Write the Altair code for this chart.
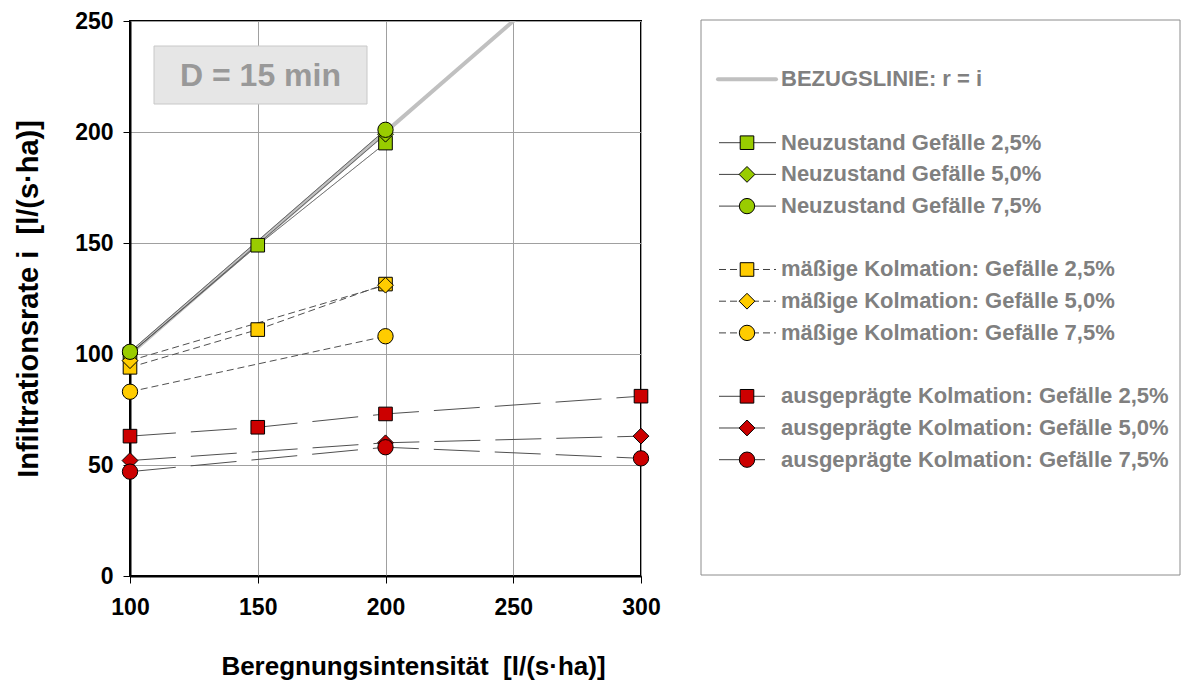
import altair as alt
import pandas as pd

# ---------------- data ----------------
states = ["Neuzustand", "mäßige Kolmation", "ausgeprägte Kolmation"]
slopes = ["2,5%", "5,0%", "7,5%"]
state_colors = ["#99CC00", "#FFCC00", "#CC0000"]
slope_shapes = ["square", "diamond", "circle"]
slope_sizes = [185, 250, 235]

neu_25_x = [100, 150, 200]
neu_25_y = [100, 149, 195]
neu_50_x = [100, 200]
neu_50_y = [100, 199]
neu_75_x = [100, 200]
neu_75_y = [101, 201]

mk_25_x = [100, 150, 200]
mk_25_y = [94, 111, 131.5]
mk_50_x = [100, 200]
mk_50_y = [97, 131]
mk_75_x = [100, 200]
mk_75_y = [83, 108]

ak_25_x = [100, 150, 200, 300]
ak_25_y = [63, 67, 73, 81]
ak_50_x = [100, 200, 300]
ak_50_y = [52, 60, 63]
ak_75_x = [100, 200, 300]
ak_75_y = [47, 58, 53]

ref_x = [100, 300]
ref_y = [100, 300]
ref_label = "BEZUGSLINIE: r = i"

x_ticks = [100, 150, 200, 250, 300]
y_ticks = [0, 50, 100, 150, 200, 250]
x_title = "Beregnungsintensität\u00a0 [l/(s·ha)]"
y_title = "Infiltrationsrate i\u00a0 [l/(s·ha)]"
box_label = "D = 15 min"

series_def = [
    (0, 0, neu_25_x, neu_25_y), (0, 1, neu_50_x, neu_50_y), (0, 2, neu_75_x, neu_75_y),
    (1, 0, mk_25_x, mk_25_y), (1, 1, mk_50_x, mk_50_y), (1, 2, mk_75_x, mk_75_y),
    (2, 0, ak_25_x, ak_25_y), (2, 1, ak_50_x, ak_50_y), (2, 2, ak_75_x, ak_75_y),
]


def label_for(si, pi):
    if si == 0:
        return f"Neuzustand Gefälle {slopes[pi]}"
    return f"{states[si]}: Gefälle {slopes[pi]}"


rows = []
legend_rows = [{"label": ref_label, "row": 0, "state": "ref", "slope": ""}]
for si, pi, xs, ys in series_def:
    lab = label_for(si, pi)
    for xv, yv in zip(xs, ys):
        rows.append({"x": xv, "y": yv, "series": lab, "state": states[si], "slope": slopes[pi]})
    legend_rows.append({"label": lab, "row": 2 + si * 4 + pi, "state": states[si], "slope": slopes[pi]})

df = pd.DataFrame(rows)
ref_df = pd.DataFrame({"x": ref_x, "y": ref_y})
leg_df = pd.DataFrame(legend_rows)
box_df = pd.DataFrame({"label": [box_label]})

FONT = "Liberation Sans"

# ---------------- scales ----------------
fill_scale = alt.Scale(domain=states, range=state_colors)
dash_scale = alt.Scale(domain=states, range=[[1, 0], [7, 4], [46, 15]])

x_enc = alt.X(
    "x:Q",
    scale=alt.Scale(domain=[100, 300], nice=False, zero=False),
    axis=alt.Axis(
        values=x_ticks, title=x_title, grid=True, gridColor="#a0a0a0", gridWidth=1,
        labelFont=FONT, labelFontSize=23, labelFontWeight="bold", labelColor="black",
        labelPadding=13, tickSize=7, tickColor="black", domainColor="black", domainWidth=2,
        titleFont=FONT, titleFontSize=26, titleFontWeight="bold", titleColor="black",
        titlePadding=34, titleX=283, labelFlush=False,
    ),
)
y_enc = alt.Y(
    "y:Q",
    scale=alt.Scale(domain=[0, 250], nice=False),
    axis=alt.Axis(
        values=y_ticks, title=y_title, grid=True, gridColor="#a0a0a0", gridWidth=1,
        labelFont=FONT, labelFontSize=23, labelFontWeight="bold", labelColor="black",
        labelPadding=10, tickSize=7, tickColor="black", domainColor="black", domainWidth=2,
        titleFont=FONT, titleFontSize=29, titleFontWeight="bold", titleColor="black",
        titlePadding=31, labelFlush=False,
    ),
)

# ---------------- plot ----------------
box = alt.Chart(box_df).mark_rect(fill="#e6e6e6", stroke="#c8c8c8", strokeWidth=1).encode(
    x=alt.value(24), x2=alt.value(237), y=alt.value(25), y2=alt.value(83)
)
box_text = alt.Chart(box_df).mark_text(
    font=FONT, fontSize=32, fontWeight="bold", color="#999999", align="center", baseline="middle"
).encode(x=alt.value(130.5), y=alt.value(55), text="label:N")

ref_line = alt.Chart(ref_df).mark_line(color="#c0c0c0", strokeWidth=4, clip=True).encode(x=x_enc, y=y_enc)

lines = alt.Chart(df).mark_line(color="#505050", strokeWidth=1).encode(
    x=x_enc, y=y_enc, detail="series:N",
    strokeDash=alt.StrokeDash("state:N", scale=dash_scale, legend=None),
)

point_layers = []
for pi, sl in enumerate(slopes):
    point_layers.append(
        alt.Chart(df).transform_filter(alt.datum.slope == sl).mark_point(
            filled=True, stroke="black", strokeWidth=1, opacity=1,
            shape=slope_shapes[pi], size=slope_sizes[pi],
        ).encode(x=x_enc, y=y_enc, fill=alt.Fill("state:N", scale=fill_scale, legend=None))
    )

plot = alt.layer(ref_line, box, box_text, lines, *point_layers)

# ---------------- legend ----------------
leg_y = alt.Y("row:Q", scale=alt.Scale(domain=[-1.839, 15.669], reverse=True, nice=False, zero=False), axis=None)

leg_frame = alt.Chart(box_df).mark_rect(fill="white", stroke="#8c8c8c", strokeWidth=1).encode(
    x=alt.value(571), x2=alt.value(1050), y=alt.value(-1), y2=alt.value(554)
)
leg_ref = alt.Chart(leg_df).transform_filter(alt.datum.state == "ref").mark_rule(
    color="#c0c0c0", strokeWidth=4, strokeCap="round"
).encode(x=alt.value(588), x2=alt.value(646), y=leg_y)

leg_rules = []
for st in states:
    x2v = 635 if st == states[2] else 646
    leg_rules.append(
        alt.Chart(leg_df).transform_filter(alt.datum.state == st).mark_rule(color="#404040", strokeWidth=1).encode(
            x=alt.value(589), x2=alt.value(x2v), y=leg_y,
            strokeDash=alt.StrokeDash("state:N", scale=dash_scale, legend=None),
        )
    )

leg_points = []
for pi, sl in enumerate(slopes):
    leg_points.append(
        alt.Chart(leg_df).transform_filter(alt.datum.slope == sl).mark_point(
            filled=True, stroke="black", strokeWidth=1, opacity=1,
            shape=slope_shapes[pi], size=slope_sizes[pi],
        ).encode(x=alt.value(617), y=leg_y, fill=alt.Fill("state:N", scale=fill_scale, legend=None))
    )

leg_text = alt.Chart(leg_df).mark_text(
    font=FONT, fontSize=22, fontWeight="bold", color="#808080", align="left", baseline="middle"
).encode(x=alt.value(651), y=leg_y, text="label:N")

legend = alt.layer(leg_frame, leg_ref, *leg_rules, *leg_points, leg_text)

chart = alt.layer(plot, legend).resolve_scale(y="independent").properties(
    width=511, height=555,
    autosize=alt.AutoSizeParams(type="none"),
    padding={"left": 130, "top": 21, "right": 542, "bottom": 104},
    background="white",
).configure_view(stroke="black", strokeWidth=2)

chart.save("out.html", embed_options={"renderer": "svg", "actions": False})
